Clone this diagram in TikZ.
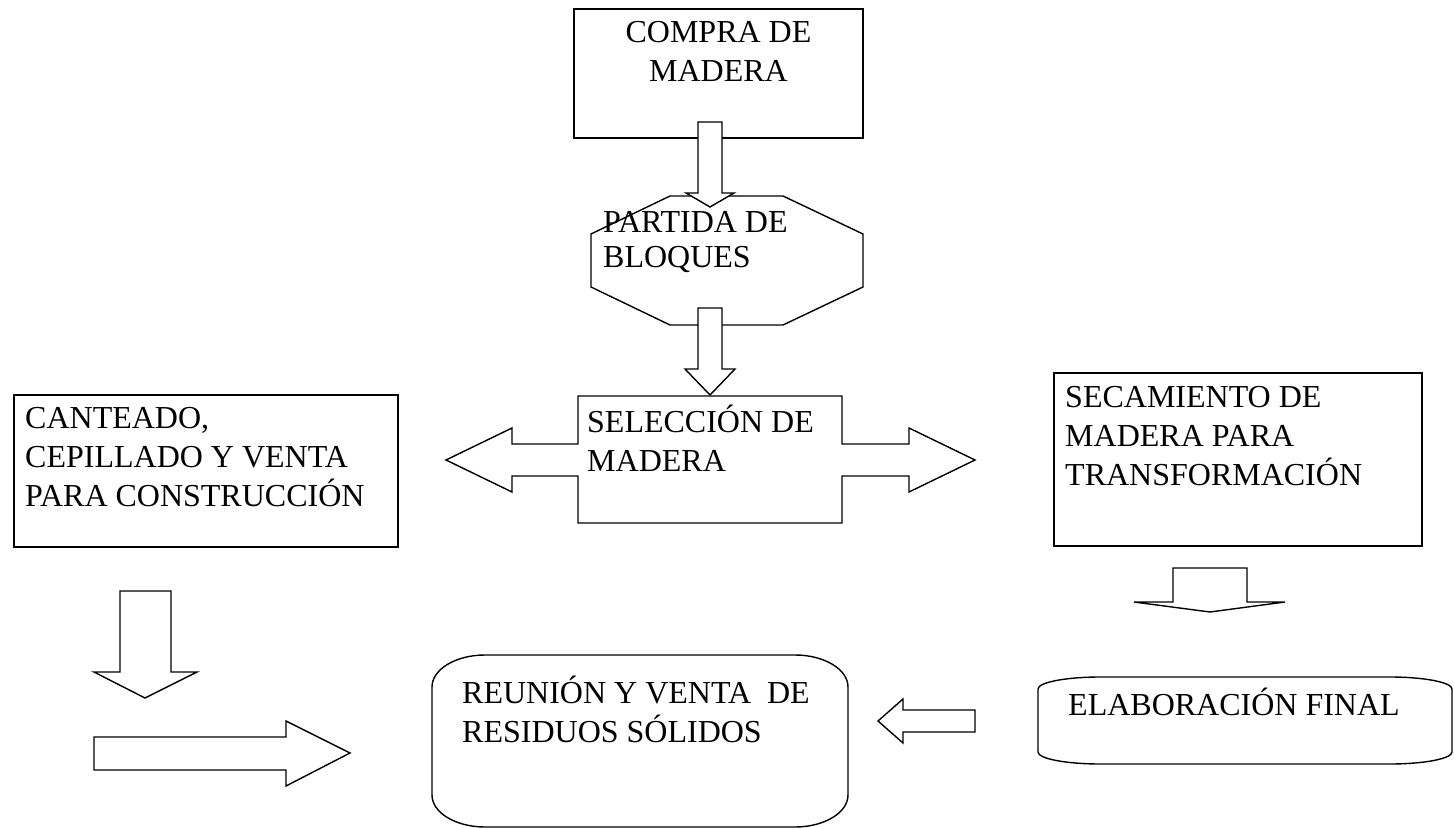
\documentclass[tikz,border=0pt]{standalone}
\usepackage{fontspec}
\setmainfont{Liberation Serif}
\usepackage{tikz}
\tikzstyle{every node}=[inner sep=0pt]
\tikzstyle{box}=[draw=black,line width=1.4pt]
\tikzstyle{blockarrow}=[draw=black,fill=white,line width=1.4pt,line join=miter]
\tikzstyle{txt}=[anchor=base west,font=\fontsize{32}{39}\selectfont]
\newcommand{\lines}[1]{\begin{tabular}[t]{@{}l@{}}#1\end{tabular}}

\begin{document}
\begin{tikzpicture}[x=1pt,y=-1pt]
\useasboundingbox (0,0) rectangle (1454,829);

% boxes
\node[box,minimum width=289pt,minimum height=129pt] (compra) at (718.5,73.5) {};
\node[box,minimum width=384pt,minimum height=152pt] (canteadobox) at (206,471) {};
\node[box,minimum width=368pt,minimum height=173pt] (secamientobox) at (1238,459.5) {};
\draw[box] (670,196) -- (783,196) -- (863,234) -- (863,287) -- (783,325)
  -- (670,325) -- (591,287) -- (591,234) -- cycle;
% seleccion with its two arrows
\draw[box,line join=miter] (578,396) -- (842,396) -- (842,444) -- (909,444) -- (909,428)
  -- (975,460) -- (909,492) -- (909,476) -- (842,476) -- (842,523)
  -- (578,523) -- (578,476) -- (512,476) -- (512,492) -- (446,460)
  -- (512,428) -- (512,444) -- (578,444) -- cycle;
\draw[box] (432,795) -- (432,687) arc[start angle=180,end angle=270,x radius=53,y radius=32]
  -- (795,655) arc[start angle=270,end angle=360,x radius=53,y radius=32]
  -- (848,795) arc[start angle=0,end angle=90,x radius=53,y radius=32]
  -- (485,827) arc[start angle=90,end angle=180,x radius=53,y radius=32] -- cycle;
\draw[box] (1038,752) -- (1038,689) arc[start angle=180,end angle=270,x radius=62,y radius=12]
  -- (1390,677) arc[start angle=270,end angle=360,x radius=62,y radius=12]
  -- (1452,752) arc[start angle=0,end angle=90,x radius=62,y radius=12]
  -- (1100,764) arc[start angle=90,end angle=180,x radius=62,y radius=12] -- cycle;

% block arrows
\draw[blockarrow] (698,122) -- (722,122) -- (722,193) -- (734,193) -- (710,207)
  -- (686,193) -- (698,193) -- cycle;
\draw[blockarrow] (698,308) -- (722,308) -- (722,369) -- (735,369) -- (710,395)
  -- (685,369) -- (698,369) -- cycle;
\draw[blockarrow] (120,591) -- (171,591) -- (171,672) -- (197,672) -- (145,698)
  -- (94,672) -- (120,672) -- cycle;
\draw[blockarrow] (94,737) -- (286,737) -- (286,721) -- (350,753) -- (286,786)
  -- (286,770) -- (94,770) -- cycle;
\draw[blockarrow] (1173,568) -- (1247,568) -- (1247,602) -- (1285,602) -- (1210,612)
  -- (1134,602) -- (1173,602) -- cycle;
\draw[blockarrow] (975,710) -- (975,732) -- (903,732) -- (903,743) -- (878,721)
  -- (903,699) -- (903,710) -- cycle;

% texts
\node[txt,anchor=base] (compratxt) at (718.5,43) {\begin{tabular}[t]{@{}c@{}}COMPRA DE\\MADERA\end{tabular}};
\node[txt] (partida) at (603,233) {\lines{PARTIDA DE\\[-4pt]BLOQUES}};
\node[txt] (seleccion) at (587,432) {\lines{SELECCIÓN DE\\MADERA}};
\node[txt] (canteado) at (25,428) {\lines{CANTEADO,\\CEPILLADO Y VENTA\\PARA CONSTRUCCIÓN}};
\node[txt] (secamiento) at (1065,407) {\lines{SECAMIENTO DE\\MADERA PARA\\TRANSFORMACIÓN}};
\node[txt] (reunion) at (462,703) {\lines{REUNIÓN Y VENTA \ DE\\RESIDUOS SÓLIDOS}};
\node[txt] (elaboracion) at (1068,715) {ELABORACIÓN FINAL};
\end{tikzpicture}
\end{document}
